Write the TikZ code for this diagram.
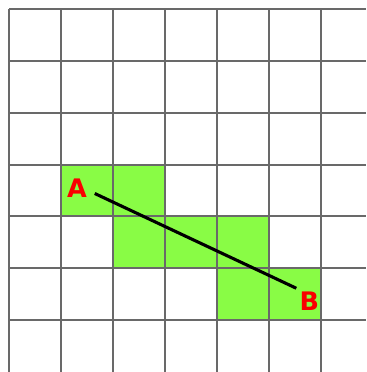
\documentclass[tikz,border=0pt]{standalone}
\usepackage{fontspec}
\setsansfont{DejaVu Sans}
\usepackage{xcolor}
\usepackage{tikz}
\usetikzlibrary{positioning}
\definecolor{cellgreen}{RGB}{137,252,69}
\definecolor{gridgray}{RGB}{105,105,105}
\definecolor{labelred}{RGB}{250,0,0}

\begin{document}
\begin{tikzpicture}[
      cell/.style={fill=cellgreen, draw=none},
      gridline/.style={gridgray, line width=1.1pt},
      seg/.style={black, line width=1.7pt},
      pt/.style={font=\sffamily\bfseries\fontsize{14}{16}\selectfont, text=labelred, inner sep=1pt}
    ]
    \useasboundingbox (-0.183,0) rectangle (6.875,7.173);
    % filled cells along the segment
    \foreach \x/\y in {1/3, 2/3, 2/2, 3/2, 4/2, 4/1, 5/1}
      \fill[cell] (\x,\y) rectangle ++(1,1);
    % grid
    \foreach \x in {0,...,6}
      \draw[gridline] (\x,0) -- (\x,7);
    \foreach \y in {1,...,7}
      \draw[gridline] (0,\y) -- (6.875,\y);
    % segment A--B
    \coordinate (a) at (1.644,3.442);
    \coordinate (b) at (5.53,1.615);
    \draw[seg] (a) -- (b);
    \node[pt] (la) at (1.30,3.54) {A};
    \node[pt] (lb) at (5.78,1.37) {B};
  \end{tikzpicture}
\end{document}
